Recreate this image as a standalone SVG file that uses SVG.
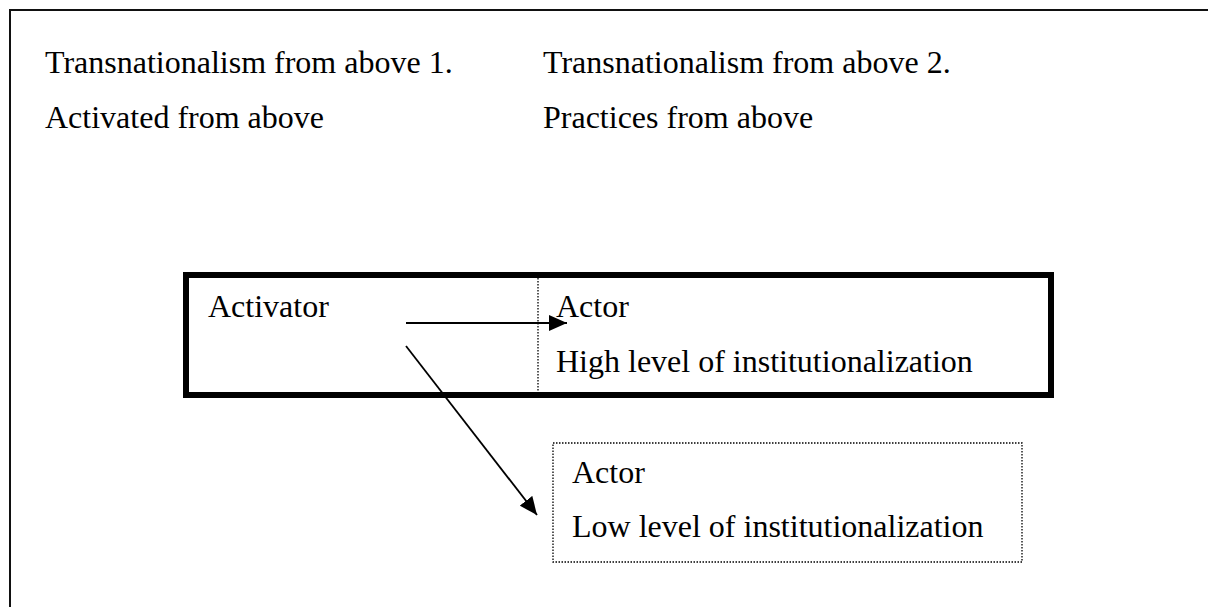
<svg xmlns="http://www.w3.org/2000/svg" width="1208" height="607" viewBox="0 0 1208 607">
  <style>
    .t { font-family: "Liberation Serif", "Times New Roman", serif; font-size: 32px; fill: #000; }
    .frame { fill: none; stroke: #111; stroke-width: 2; }
    .thick { fill: none; stroke: #000; stroke-width: 6; }
    .dot { fill: none; stroke: #000; stroke-width: 1.3; stroke-dasharray: 1.5 1.5; }
    .edge { fill: none; stroke: #000; stroke-width: 1.8; }
  </style>
  <defs>
    <marker id="arrow" markerUnits="userSpaceOnUse" markerWidth="18" markerHeight="16" refX="18" refY="8" orient="auto">
      <path d="M0,0 L18,8 L0,16 z" fill="#000"/>
    </marker>
  </defs>
  <rect x="0" y="0" width="1208" height="607" fill="#fff"/>
  <path class="frame" d="M10,607 V10 H1208"/>

  <g id="header-left">
    <text class="t" x="45" y="73">Transnationalism from above 1.</text>
    <text class="t" x="45" y="128">Activated from above</text>
  </g>
  <g id="header-right">
    <text class="t" x="543" y="73">Transnationalism from above 2.</text>
    <text class="t" x="543" y="128">Practices from above</text>
  </g>

  <g id="main-box">
    <rect class="thick" x="186" y="275" width="865" height="120"/>
    <line class="dot" x1="538" y1="278" x2="538" y2="392"/>
  </g>
  <g id="activator">
    <text class="t" x="208" y="317">Activator</text>
  </g>
  <g id="actor-high">
    <text class="t" x="556" y="317">Actor</text>
    <text class="t" x="556" y="372">High level of institutionalization</text>
  </g>
  <g id="actor-low">
    <rect class="dot" x="553" y="443" width="469" height="119"/>
    <text class="t" x="572" y="483">Actor</text>
    <text class="t" x="572" y="537">Low level of institutionalization</text>
  </g>

  <g id="connectors">
    <line class="edge" x1="406" y1="323" x2="567" y2="323" marker-end="url(#arrow)"/>
    <line class="edge" x1="406" y1="346" x2="537" y2="515" marker-end="url(#arrow)"/>
  </g>
</svg>
